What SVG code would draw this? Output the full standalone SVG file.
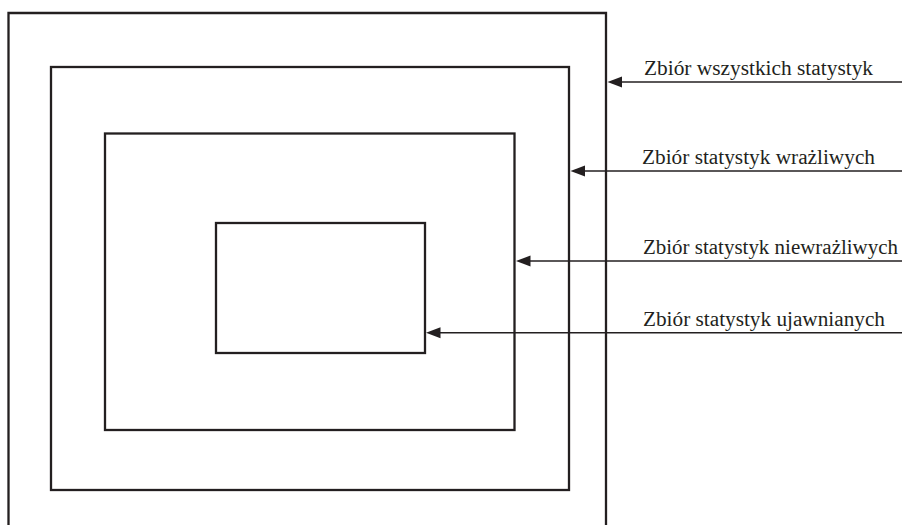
<svg xmlns="http://www.w3.org/2000/svg" width="904" height="525" viewBox="0 0 904 525">
<style>
.box{fill:none;stroke:#231f20;stroke-width:2.3}
.con{stroke:#231f20;stroke-width:1.5;fill:none}
.head{fill:#231f20}
.lbl{font-family:"Liberation Serif","Times New Roman",serif;font-size:20.5px;fill:#231f20}
</style>
<rect width="904" height="525" fill="#ffffff"/>
<g id="all">
<path class="box" d="M8.5,525 V13 H606 V525"/>
</g>
<g id="sensitive">
<rect class="box" x="51" y="67" width="518" height="423"/>
</g>
<g id="insensitive">
<rect class="box" x="105" y="133.5" width="409.5" height="296.5"/>
</g>
<g id="disclosed">
<rect class="box" x="216" y="223" width="209" height="130"/>
</g>
<g id="connectors">
<line class="con" x1="902" y1="82" x2="615" y2="82"/>
<polygon class="head" points="607.5,82 622,76.5 622,87.5"/>
<line class="con" x1="902" y1="171" x2="578" y2="171"/>
<polygon class="head" points="570.5,171 585,165.5 585,176.5"/>
<line class="con" x1="902" y1="261" x2="524" y2="261"/>
<polygon class="head" points="516,261 530.5,255.5 530.5,266.5"/>
<line class="con" x1="902" y1="332.7" x2="434" y2="332.7"/>
<polygon class="head" points="426,332.7 440.5,327.2 440.5,338.2"/>
</g>
<g id="labels">
<text class="lbl" x="644" y="75" textLength="229" lengthAdjust="spacingAndGlyphs">Zbiór wszystkich statystyk</text>
<text class="lbl" x="642" y="163.5" textLength="233" lengthAdjust="spacingAndGlyphs">Zbiór statystyk wrażliwych</text>
<text class="lbl" x="643" y="253.5" textLength="255" lengthAdjust="spacingAndGlyphs">Zbiór statystyk niewrażliwych</text>
<text class="lbl" x="643" y="325.5" textLength="242" lengthAdjust="spacingAndGlyphs">Zbiór statystyk ujawnianych</text>
</g>
</svg>
